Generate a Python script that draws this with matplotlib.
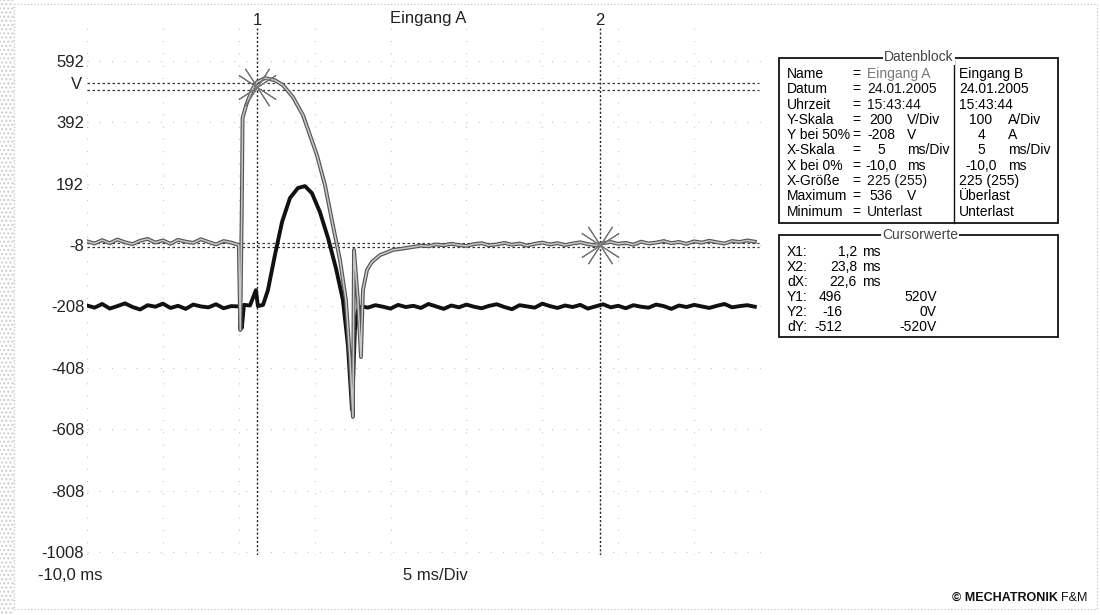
import numpy as np
import matplotlib.pyplot as plt
from matplotlib.patches import Rectangle

W, H = 1100, 615
FONT = ['Liberation Sans', 'DejaVu Sans']

# --- Messdaten (Zeit in ms, Werte in Achseinheiten) ---
# Kanal A (grau, Spannung): Grundlinie vor dem Ereignis
a_pre = [4, -3, 8, -2, 10, 1, -5, 6, 12, 0, 7, -4, 9, 3, -1, 11, 2, -6, 5, 0]
# Kanal A: Transiente
a_t = [0.0, 0.1, 0.2, 0.25, 0.5, 0.9, 1.2, 1.73, 2.38, 2.91, 3.57, 4.23, 4.69, 5.15,
       5.68, 6.2, 6.67, 7.06, 7.33, 7.52, 7.59, 7.85, 8.05, 8.18, 8.45, 8.77, 9.3,
       10.16, 11.0]
a_v = [-8, -285, 120, 406, 450, 500, 523, 536, 529, 513, 474, 415, 350, 285,
       187, 57, -57, -187, -383, -568, -24, -187, -373, -155, -89, -63, -41,
       -24, -18]
# Kanal A: Grundlinie danach
a_post = [-14, -10, -12, -6, -9, -4, -8, -11, -5, -2, -9, -6, -1, -7, -3, -10, -4, 0,
          -6, -2, -8, -3, 1, -5, -9, -2, 2, -4, -1, -7, 3, -3, 0, 5, -2, 2, -4, 4, 0,
          6, 1, -3, 5, 2, 7, 3]

# Kanal B (schwarz, Strom)
b_pre = [-205, -212, -200, -215, -207, -198, -210, -218, -204, -209, -199, -213,
         -206, -216, -202, -208, -211, -201, -214, -207]
b_t = [0.0, 0.08, 0.2, 0.34, 0.74, 1.13, 1.26, 1.6, 1.92, 2.38, 2.85, 3.37, 3.9,
       4.36, 4.82, 5.35, 5.88, 6.4, 6.86, 7.19, 7.46, 7.65, 7.85, 8.12]
b_v = [-208, -210, -278, -203, -205, -155, -207, -203, -155, -41, 67, 145, 178,
       184, 161, 99, 15, -83, -187, -334, -545, -285, -220, -208]
b_post = [-212, -204, -209, -215, -203, -210, -206, -213, -200, -208, -216, -205,
          -211, -202, -209, -214, -206, -201, -210, -217, -204, -208, -212, -199,
          -207, -213, -205, -210, -203, -215, -208, -201, -211, -206, -214, -204,
          -209, -212, -202, -207, -216, -205, -210, -203, -208, -213, -206, -200,
          -211, -207, -204, -209]

y_levels = [592, 392, 192, -8, -208, -408, -608, -808, -1008]

# Cursor
cursor_x = [1.2, 23.8]
cursor_y = [520, 496, 0, -16]
cursor_marks = [(1.2, 508), (23.8, -8)]

# Datenblock
db_labels = ['Name', 'Datum', 'Uhrzeit', 'Y-Skala', 'Y bei 50%', 'X-Skala',
             'X bei 0%', 'X-Größe', 'Maximum', 'Minimum']
db_a = ['Eingang A', '24.01.2005', '15:43:44', '200', '-208', '5', '-10,0',
        '225 (255)', '536', 'Unterlast']
db_a_unit = ['', '', '', 'V/Div', 'V', 'ms/Div', 'ms', '', 'V', '']
db_b = ['Eingang B', '24.01.2005', '15:43:44', '100', '4', '5', '-10,0',
        '225 (255)', 'Überlast', 'Unterlast']
db_b_unit = ['', '', '', 'A/Div', 'A', 'ms/Div', 'ms', '', '', '']

# Cursorwerte
cw_labels = ['X1:', 'X2:', 'dX:', 'Y1:', 'Y2:', 'dY:']
cw_num = ['1,2', '23,8', '22,6', '496', '-16', '-512']
cw_unit = ['ms', 'ms', 'ms', '', '', '']
cw_b = ['', '', '', '520V', '0V', '-520V']

# --- Zeitachsen zusammensetzen ---
ta = np.concatenate([-10 + 0.5 * np.arange(len(a_pre)), a_t,
                     11.5 + 0.5 * np.arange(len(a_post))])
va = np.concatenate([a_pre, a_v, a_post])
tb = np.concatenate([-10 + 0.5 * np.arange(len(b_pre)), b_t,
                     8.5 + 0.5 * np.arange(len(b_post))])
vb = np.concatenate([b_pre, b_v, b_post])


def fx(px):
    return px / W


def fy(py):
    return 1 - py / H


plt.rcParams['font.family'] = FONT
fig = plt.figure(figsize=(11, 6.15), dpi=100)

ax = fig.add_axes([fx(87), fy(555), 683 / W, 530 / H])
ax.set_xlim(-10, 35)
ax.set_ylim(-1018, 709)
for s in ax.spines.values():
    s.set_visible(False)
ax.set_xticks(np.arange(-10, 36, 5))
ax.set_xticklabels([])
ax.set_yticks(y_levels)
ax.set_yticklabels([str(v) for v in y_levels], fontsize=12, color='#222222')
ax.tick_params(length=0, pad=2)
ax.grid(True, color='#c4c4c4', lw=0.8, ls=(0, (1, 10)))

# Kurven
ax.plot(tb, vb, color='#111111', lw=2.8, solid_joinstyle='round', zorder=3)
ax.plot(ta, va, color='#555555', lw=2.8, solid_joinstyle='round', zorder=4)
ax.plot(ta, va, color='#c8c8c8', lw=1.1, solid_joinstyle='round', zorder=5)

# Cursorlinien
for cx in cursor_x:
    ax.plot([cx, cx], [-1018, 700], color='#222222', lw=1.0, ls=(0, (1.5, 1.5)),
            zorder=2)
for cy in cursor_y:
    ax.plot([-10, 34.3], [cy, cy], color='#333333', lw=0.9, ls=(0, (2, 2)), zorder=2)
for mx, my in cursor_marks:
    for ang in (33, 57):
        ax.plot(mx, my, marker=(4, 2, ang), ms=32, mew=0.8, color='#777777', zorder=6)
for i, cx in enumerate(cursor_x):
    ax.text(cx, 1.009, str(i + 1), transform=ax.get_xaxis_transform(),
            ha='center', va='center', fontsize=12, color='#222222')
ax.text(-10.3, 516, 'V', transform=ax.transData, ha='right', va='center',
        fontsize=12, color='#222222')

fig.text(fx(428), fy(18), 'Eingang A', ha='center', va='center', fontsize=12,
         color='#222222')
fig.text(fx(38), fy(576), '-10,0 ms', ha='left', va='center', fontsize=12,
         color='#222222')
fig.text(fx(435), fy(576), '5 ms/Div', ha='center', va='center', fontsize=12,
         color='#222222')

# Datenblock
fig.add_artist(Rectangle((fx(779), fy(223)), (1058 - 779) / W, (223 - 58) / H,
                         fill=False, ec='#111111', lw=1.3, transform=fig.transFigure))
fig.add_artist(plt.Line2D([fx(954), fx(954)], [fy(60), fy(223)], color='#111111',
                          lw=1.0, transform=fig.transFigure))
fig.text(fx(919), fy(57), 'Datenblock', ha='center', va='center', fontsize=10,
         color='#444444', bbox=dict(fc='white', ec='none', pad=1))
fs = 10
for i, lab in enumerate(db_labels):
    y = fy(74 + 15.3 * i)
    fig.text(fx(787), y, lab, ha='left', va='center', fontsize=fs)
    fig.text(fx(852), y, '=', ha='left', va='center', fontsize=fs)
    col = '#777777' if i == 0 else '#111111'
    if db_a_unit[i]:
        fig.text(fx(881), y, db_a[i], ha='center', va='center', fontsize=fs)
        fig.text(fx(907), y, db_a_unit[i], ha='left', va='center', fontsize=fs)
    else:
        fig.text(fx(867), y, db_a[i], ha='left', va='center', fontsize=fs, color=col)
    if db_b_unit[i]:
        fig.text(fx(981), y, db_b[i], ha='center', va='center', fontsize=fs)
        fig.text(fx(1008), y, db_b_unit[i], ha='left', va='center', fontsize=fs)
    else:
        fig.text(fx(959), y, db_b[i], ha='left', va='center', fontsize=fs)

# Cursorwerte
fig.add_artist(Rectangle((fx(779), fy(337)), (1058 - 779) / W, (337 - 235) / H,
                         fill=False, ec='#111111', lw=1.3, transform=fig.transFigure))
fig.text(fx(920), fy(235), 'Cursorwerte', ha='center', va='center', fontsize=10,
         color='#444444', bbox=dict(fc='white', ec='none', pad=1))
for i, lab in enumerate(cw_labels):
    y = fy(252 + 15 * i)
    fig.text(fx(787), y, lab, ha='left', va='center', fontsize=fs)
    if cw_unit[i]:
        fig.text(fx(857), y, cw_num[i], ha='right', va='center', fontsize=fs)
        fig.text(fx(862), y, cw_unit[i], ha='left', va='center', fontsize=fs)
    else:
        fig.text(fx(842), y, cw_num[i], ha='right', va='center', fontsize=fs)
    if cw_b[i]:
        fig.text(fx(937), y, cw_b[i], ha='right', va='center', fontsize=fs)

# Copyright
fig.text(fx(1058), fy(598), '© MECHATRONIK', ha='right', va='center', fontsize=9,
         fontweight='bold', color='#111111')
fig.text(fx(1061), fy(598), 'F&M', ha='left', va='center', fontsize=9,
         color='#111111')

# Scanrand
fig.add_artist(Rectangle((0, 0), fx(14), 1, fill=False, hatch='....', ec='#cccccc',
                         lw=0, transform=fig.transFigure))
fig.add_artist(Rectangle((fx(14), fy(609)), fx(1083), (609 - 4) / H, fill=False,
                         ec='#bbbbbb', lw=0.8, ls=(0, (1, 2)),
                         transform=fig.transFigure))

fig.savefig('out.png', dpi=100)
